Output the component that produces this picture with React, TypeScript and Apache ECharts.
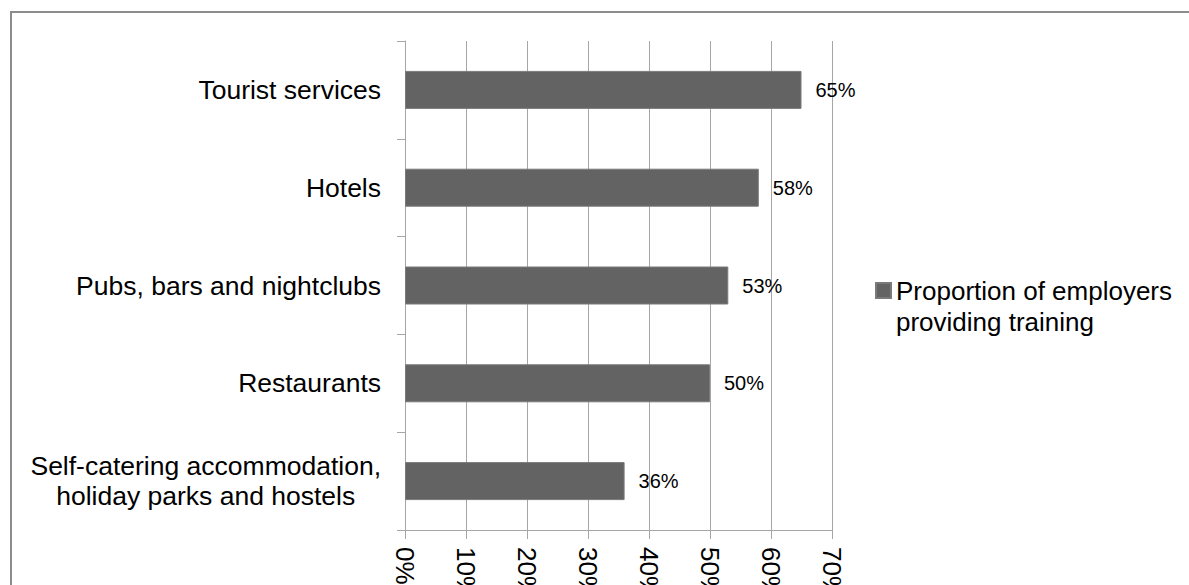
import React, { useEffect, useRef } from "react";
import * as echarts from "echarts";

const categories = [
  "Self-catering accommodation,\nholiday parks and hostels",
  "Restaurants",
  "Pubs, bars and nightclubs",
  "Hotels",
  "Tourist services",
];
const values = [36, 50, 53, 58, 65];
const seriesName = "Proportion of employers\nproviding training";
const xMin = 0;
const xMax = 70;
const xInterval = 10;

export default function App() {
  const ref = useRef<HTMLDivElement>(null);
  useEffect(() => {
    if (!ref.current) return;
    const chart = echarts.init(ref.current, null, { renderer: "svg" });
    const font = "'Liberation Sans', Arial, sans-serif";
    chart.setOption({
      animation: false,
      backgroundColor: "#ffffff",
      grid: {
        left: 405,
        right: 357,
        top: 41,
        bottom: 55,
        containLabel: false,
        outerBoundsMode: "none",
      },
      legend: {
        show: true,
        left: 875,
        top: 274,
        padding: 0,
        orient: "vertical",
        itemWidth: 15,
        itemHeight: 62,
        data: [
          {
            name: seriesName,
            icon: "path://M0,0L0.001,0L0,0Z M0,8H15V23H0Z M0,62L0.001,62L0,62Z",
          },
        ],
        textStyle: {
          fontFamily: font,
          fontSize: 26,
          lineHeight: 31,
          color: "#000",
        },
      },
      xAxis: {
        type: "value",
        min: xMin,
        max: xMax,
        interval: xInterval,
        axisLine: { show: true, lineStyle: { color: "#a6a6a6", width: 1 } },
        axisTick: { show: true, length: 9, lineStyle: { color: "#a6a6a6" } },
        splitLine: { show: true, lineStyle: { color: "#a6a6a6", width: 1 } },
        axisLabel: {
          rotate: -90,
          margin: 17,
          formatter: "{value}%",
          fontFamily: font,
          fontSize: 26,
          color: "#000",
        },
      },
      yAxis: {
        type: "category",
        data: categories,
        axisLine: { show: true, lineStyle: { color: "#a6a6a6", width: 1 } },
        axisTick: { show: true, length: 8, lineStyle: { color: "#a6a6a6" } },
        splitLine: { show: false },
        axisLabel: {
          margin: 24,
          fontFamily: font,
          fontSize: 26.5,
          color: "#000",
          verticalAlign: "middle",
          formatter: (v: string) =>
            v
              .split("\n")
              .map((s) => "{c|" + s + "}")
              .join("\n"),
          rich: {
            c: {
              align: "center",
              fontFamily: font,
              fontSize: 26.5,
              lineHeight: 30,
              color: "#000",
            },
          },
        },
      },
      series: [
        {
          name: seriesName,
          type: "bar",
          data: values,
          barWidth: 38,
          itemStyle: { color: "#636363", borderColor: "#7a7a7a", borderWidth: 1 },
          label: {
            show: true,
            position: "right",
            distance: 14,
            formatter: "{c}%",
            fontFamily: font,
            fontSize: 20,
            color: "#000",
          },
        },
      ],
      graphic: [
        {
          type: "rect",
          silent: true,
          shape: { x: 11, y: 12, width: 1400, height: 800 },
          style: { fill: "none", stroke: "#8c8c8c", lineWidth: 2 },
        },
      ],
    });
    return () => chart.dispose();
  }, []);
  return (
    <div
      ref={ref}
      style={{ position: "fixed", left: 0, top: 0, width: 1189, height: 585 }}
    />
  );
}
